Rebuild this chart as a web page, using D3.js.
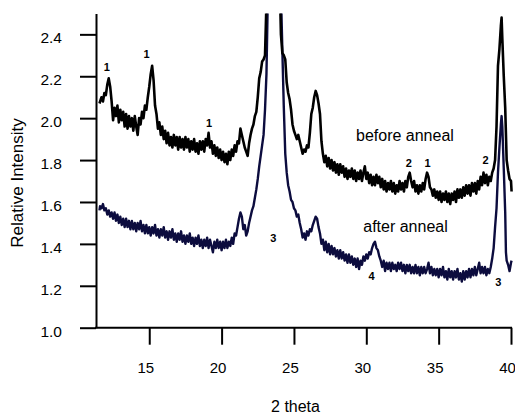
<!DOCTYPE html>
<html>
<head>
<meta charset="utf-8">
<script src="https://cdn.jsdelivr.net/npm/d3@7"></script>
<style>
  body { margin: 0; background: #fff; }
  text { font-family: "Liberation Sans", Arial, sans-serif; }
</style>
</head>
<body>
<div id="chart"></div>
<script>
//XRD scan before anneal: [2 theta, relative intensity]
const beforeAnneal = [
  [11.56, 2.07], [11.7, 2.10], [11.8, 2.08], [11.9, 2.12], [12.0, 2.11], [12.1, 2.16], [12.2, 2.19], [12.3, 2.15],
  [12.4, 2.08], [12.5, 1.99], [12.6, 2.05], [12.7, 2.01], [12.8, 2.06], [12.9, 1.98], [13.0, 2.04], [13.1, 1.99],
  [13.2, 2.03], [13.3, 1.96], [13.4, 2.02], [13.5, 1.95], [13.6, 2.01], [13.7, 1.96], [13.8, 2.00], [13.9, 1.94],
  [14.0, 2.01], [14.1, 1.96], [14.2, 1.92], [14.3, 2.00], [14.4, 1.97], [14.5, 2.03], [14.6, 2.00], [14.7, 2.06],
  [14.8, 2.04], [14.9, 2.10], [15.0, 2.15], [15.1, 2.21], [15.2, 2.25], [15.3, 2.18], [15.4, 2.06], [15.5, 2.02],
  [15.6, 1.95], [15.7, 1.98], [15.8, 1.92], [15.9, 1.96], [16.0, 1.90], [16.1, 1.94], [16.2, 1.88], [16.3, 1.93],
  [16.4, 1.87], [16.5, 1.91], [16.6, 1.86], [16.7, 1.92], [16.8, 1.87], [16.9, 1.91], [17.0, 1.85], [17.1, 1.91],
  [17.2, 1.86], [17.3, 1.90], [17.4, 1.85], [17.5, 1.91], [17.6, 1.86], [17.7, 1.90], [17.8, 1.84], [17.9, 1.89],
  [18.0, 1.85], [18.1, 1.90], [18.2, 1.84], [18.3, 1.88], [18.4, 1.83], [18.5, 1.89], [18.6, 1.85], [18.7, 1.89],
  [18.8, 1.84], [18.9, 1.90], [19.0, 1.87], [19.1, 1.93], [19.2, 1.86], [19.3, 1.89], [19.4, 1.83], [19.5, 1.87],
  [19.6, 1.82], [19.7, 1.86], [19.8, 1.81], [19.9, 1.85], [20.0, 1.80], [20.1, 1.84], [20.2, 1.79], [20.3, 1.83],
  [20.4, 1.78], [20.5, 1.84], [20.6, 1.80], [20.7, 1.85], [20.8, 1.82], [20.9, 1.87], [21.0, 1.84], [21.1, 1.89],
  [21.2, 1.88], [21.3, 1.95], [21.4, 1.92], [21.5, 1.89], [21.6, 1.86], [21.7, 1.84], [21.8, 1.82], [21.9, 1.88],
  [22.0, 1.92], [22.1, 1.95], [22.2, 1.97], [22.3, 2.01], [22.4, 2.03], [22.5, 2.10], [22.6, 2.19], [22.7, 2.22],
  [22.8, 2.27], [22.9, 2.28], [23.0, 2.30], [23.1, 2.55], [23.2, 2.90], [23.4, 3.30], [23.6, 3.40], [23.8, 3.20],
  [24.0, 2.70], [24.1, 2.40], [24.2, 2.31], [24.3, 2.30], [24.4, 2.28], [24.5, 2.17], [24.6, 2.12], [24.7, 2.09],
  [24.8, 2.04], [24.9, 1.97], [25.0, 1.94], [25.1, 1.92], [25.2, 1.90], [25.3, 1.92], [25.4, 1.89], [25.5, 1.86],
  [25.6, 1.83], [25.7, 1.85], [25.8, 1.84], [25.9, 1.87], [26.0, 1.86], [26.1, 1.93], [26.2, 2.02], [26.3, 2.05],
  [26.4, 2.10], [26.5, 2.13], [26.6, 2.11], [26.7, 2.07], [26.8, 2.02], [26.9, 1.89], [27.0, 1.83], [27.1, 1.79],
  [27.2, 1.82], [27.3, 1.77], [27.4, 1.81], [27.5, 1.76], [27.6, 1.80], [27.7, 1.75], [27.8, 1.79], [27.9, 1.74],
  [28.0, 1.78], [28.1, 1.73], [28.2, 1.78], [28.3, 1.74], [28.4, 1.77], [28.5, 1.72], [28.6, 1.76], [28.7, 1.71],
  [28.8, 1.75], [28.9, 1.72], [29.0, 1.76], [29.1, 1.71], [29.2, 1.75], [29.3, 1.70], [29.4, 1.74], [29.5, 1.71],
  [29.6, 1.75], [29.7, 1.70], [29.8, 1.74], [29.9, 1.77], [30.0, 1.71], [30.1, 1.74], [30.2, 1.69], [30.3, 1.73],
  [30.4, 1.68], [30.5, 1.72], [30.6, 1.68], [30.7, 1.73], [30.8, 1.69], [30.9, 1.72], [31.0, 1.67], [31.1, 1.71],
  [31.2, 1.66], [31.3, 1.70], [31.4, 1.65], [31.5, 1.69], [31.6, 1.66], [31.7, 1.70], [31.8, 1.65], [31.9, 1.69],
  [32.0, 1.64], [32.1, 1.68], [32.2, 1.65], [32.3, 1.70], [32.4, 1.66], [32.5, 1.69], [32.6, 1.65], [32.7, 1.70],
  [32.8, 1.67], [32.9, 1.72], [33.0, 1.74], [33.1, 1.70], [33.2, 1.67], [33.3, 1.70], [33.4, 1.65], [33.5, 1.68],
  [33.6, 1.64], [33.7, 1.68], [33.8, 1.65], [33.9, 1.69], [34.0, 1.66], [34.1, 1.71], [34.2, 1.74], [34.3, 1.72],
  [34.4, 1.67], [34.5, 1.66], [34.6, 1.63], [34.7, 1.66], [34.8, 1.62], [34.9, 1.65], [35.0, 1.61], [35.1, 1.65],
  [35.2, 1.60], [35.3, 1.64], [35.4, 1.61], [35.5, 1.65], [35.6, 1.60], [35.7, 1.64], [35.8, 1.59], [35.9, 1.64],
  [36.0, 1.61], [36.1, 1.65], [36.2, 1.60], [36.3, 1.66], [36.4, 1.62], [36.5, 1.66], [36.6, 1.62], [36.7, 1.67],
  [36.8, 1.63], [36.9, 1.68], [37.0, 1.64], [37.1, 1.68], [37.2, 1.63], [37.3, 1.69], [37.4, 1.65], [37.5, 1.69],
  [37.6, 1.64], [37.7, 1.70], [37.8, 1.66], [37.9, 1.72], [38.0, 1.68], [38.1, 1.74], [38.2, 1.69], [38.3, 1.73],
  [38.4, 1.68], [38.5, 1.72], [38.6, 1.70], [38.7, 1.74], [38.8, 1.76], [38.9, 1.80], [39.0, 1.96], [39.1, 2.25],
  [39.2, 2.33], [39.3, 2.44], [39.35, 2.48], [39.4, 2.38], [39.5, 2.20], [39.6, 2.05], [39.7, 1.80], [39.8, 1.75],
  [39.9, 1.71], [40.0, 1.70], [40.04, 1.65]
];

//XRD scan after anneal
const afterAnneal = [
  [11.56, 1.56], [11.6, 1.58], [11.7, 1.57], [11.8, 1.59], [11.9, 1.56], [12.0, 1.57], [12.1, 1.54], [12.2, 1.56],
  [12.3, 1.53], [12.4, 1.55], [12.5, 1.52], [12.6, 1.55], [12.7, 1.51], [12.8, 1.54], [12.9, 1.50], [13.0, 1.53],
  [13.1, 1.49], [13.2, 1.52], [13.3, 1.48], [13.4, 1.52], [13.5, 1.48], [13.6, 1.51], [13.7, 1.47], [13.8, 1.51],
  [13.9, 1.47], [14.0, 1.50], [14.1, 1.46], [14.2, 1.50], [14.3, 1.47], [14.4, 1.51], [14.5, 1.46], [14.6, 1.49],
  [14.7, 1.45], [14.8, 1.49], [14.9, 1.45], [15.0, 1.48], [15.1, 1.44], [15.2, 1.48], [15.3, 1.45], [15.4, 1.49],
  [15.5, 1.44], [15.6, 1.47], [15.7, 1.43], [15.8, 1.47], [15.9, 1.44], [16.0, 1.48], [16.1, 1.43], [16.2, 1.46],
  [16.3, 1.42], [16.4, 1.46], [16.5, 1.43], [16.6, 1.47], [16.7, 1.42], [16.8, 1.45], [16.9, 1.41], [17.0, 1.45],
  [17.1, 1.42], [17.2, 1.46], [17.3, 1.41], [17.4, 1.44], [17.5, 1.40], [17.6, 1.44], [17.7, 1.41], [17.8, 1.45],
  [17.9, 1.40], [18.0, 1.43], [18.1, 1.39], [18.2, 1.43], [18.3, 1.40], [18.4, 1.44], [18.5, 1.39], [18.6, 1.42],
  [18.7, 1.38], [18.8, 1.42], [18.9, 1.39], [19.0, 1.43], [19.1, 1.38], [19.2, 1.42], [19.3, 1.39], [19.4, 1.36],
  [19.5, 1.41], [19.6, 1.38], [19.7, 1.42], [19.8, 1.38], [19.9, 1.41], [20.0, 1.37], [20.1, 1.41], [20.2, 1.38],
  [20.3, 1.42], [20.4, 1.38], [20.5, 1.41], [20.6, 1.39], [20.7, 1.43], [20.8, 1.40], [20.9, 1.45], [21.0, 1.44],
  [21.1, 1.48], [21.2, 1.52], [21.3, 1.55], [21.4, 1.53], [21.5, 1.47], [21.6, 1.49], [21.7, 1.44], [21.8, 1.46],
  [21.9, 1.50], [22.0, 1.53], [22.1, 1.56], [22.2, 1.58], [22.3, 1.62], [22.4, 1.66], [22.5, 1.71], [22.6, 1.77],
  [22.7, 1.82], [22.8, 1.87], [22.9, 1.92], [23.0, 2.04], [23.1, 2.21], [23.2, 2.60], [23.4, 3.20], [23.7, 3.50],
  [23.9, 3.00], [24.1, 2.60], [24.2, 2.32], [24.3, 2.05], [24.4, 1.83], [24.5, 1.74], [24.6, 1.68], [24.7, 1.65],
  [24.8, 1.61], [24.9, 1.60], [25.0, 1.57], [25.1, 1.56], [25.2, 1.53], [25.3, 1.54], [25.4, 1.50], [25.5, 1.47],
  [25.6, 1.43], [25.7, 1.45], [25.8, 1.42], [25.9, 1.46], [26.0, 1.44], [26.1, 1.47], [26.2, 1.46], [26.3, 1.49],
  [26.4, 1.51], [26.5, 1.53], [26.6, 1.52], [26.7, 1.48], [26.8, 1.45], [26.9, 1.40], [27.0, 1.42], [27.1, 1.37],
  [27.2, 1.41], [27.3, 1.36], [27.4, 1.40], [27.5, 1.35], [27.6, 1.39], [27.7, 1.35], [27.8, 1.38], [27.9, 1.34],
  [28.0, 1.37], [28.1, 1.33], [28.2, 1.37], [28.3, 1.33], [28.4, 1.36], [28.5, 1.32], [28.6, 1.35], [28.7, 1.31],
  [28.8, 1.35], [28.9, 1.31], [29.0, 1.34], [29.1, 1.30], [29.2, 1.33], [29.3, 1.29], [29.4, 1.33], [29.5, 1.28],
  [29.6, 1.32], [29.7, 1.30], [29.8, 1.34], [29.9, 1.32], [30.0, 1.35], [30.1, 1.33], [30.2, 1.36], [30.3, 1.35],
  [30.4, 1.38], [30.5, 1.40], [30.6, 1.41], [30.7, 1.38], [30.8, 1.37], [30.9, 1.34], [31.0, 1.32], [31.1, 1.29],
  [31.2, 1.32], [31.3, 1.27], [31.4, 1.31], [31.5, 1.28], [31.6, 1.31], [31.7, 1.27], [31.8, 1.31], [31.9, 1.28],
  [32.0, 1.30], [32.1, 1.27], [32.2, 1.31], [32.3, 1.28], [32.4, 1.31], [32.5, 1.27], [32.6, 1.30], [32.7, 1.26],
  [32.8, 1.30], [32.9, 1.27], [33.0, 1.30], [33.1, 1.26], [33.2, 1.29], [33.3, 1.26], [33.4, 1.30], [33.5, 1.26],
  [33.6, 1.29], [33.7, 1.25], [33.8, 1.29], [33.9, 1.26], [34.0, 1.29], [34.1, 1.26], [34.2, 1.28], [34.3, 1.31],
  [34.4, 1.26], [34.5, 1.29], [34.6, 1.25], [34.7, 1.28], [34.8, 1.25], [34.9, 1.28], [35.0, 1.24], [35.1, 1.28],
  [35.2, 1.25], [35.3, 1.29], [35.4, 1.24], [35.5, 1.27], [35.6, 1.23], [35.7, 1.28], [35.8, 1.24], [35.9, 1.27],
  [36.0, 1.23], [36.1, 1.27], [36.2, 1.24], [36.3, 1.28], [36.4, 1.23], [36.5, 1.26], [36.6, 1.22], [36.7, 1.27],
  [36.8, 1.23], [36.9, 1.27], [37.0, 1.24], [37.1, 1.28], [37.2, 1.24], [37.3, 1.28], [37.4, 1.25], [37.5, 1.29],
  [37.6, 1.25], [37.7, 1.28], [37.8, 1.31], [37.9, 1.26], [38.0, 1.29], [38.1, 1.26], [38.2, 1.29], [38.3, 1.25],
  [38.4, 1.28], [38.5, 1.26], [38.6, 1.29], [38.7, 1.33], [38.8, 1.38], [38.9, 1.48], [39.0, 1.57], [39.1, 1.74],
  [39.2, 1.86], [39.3, 1.97], [39.35, 2.01], [39.4, 1.96], [39.5, 1.76], [39.6, 1.55], [39.65, 1.36], [39.7, 1.32],
  [39.8, 1.30], [39.9, 1.27], [40.0, 1.31], [40.04, 1.32]
];

//axis ticks
const xTicks = [15, 20, 25, 30, 35, 40];
const yTicks = [1.0, 1.2, 1.4, 1.6, 1.8, 2.0, 2.2, 2.4];

//peak markers: [2 theta, intensity, label]
const peakLabels = [
  [12.06, 2.246, "1"], [14.82, 2.306, "1"], [19.13, 1.976, "1"],
  [32.93, 1.785, "2"], [34.24, 1.785, "1"], [38.25, 1.80, "2"],
  [23.57, 1.427, "3"], [30.37, 1.247, "4"], [39.12, 1.22, "3"]
];

//curve names
const curveLabels = [
  [32.67, 1.916, "before anneal"],
  [32.71, 1.482, "after anneal"]
];

//size
const width = 515;
const height = 418;
const plot = { left: 96, right: 511, top: 13.4, bottom: 327.7 };

const x = d3.scaleLinear().domain([11.32, 40]).range([plot.left, plot.right]);
const y = d3.scaleLinear().domain([1.0, 2.5]).range([plot.bottom, plot.top]);

const svg = d3
  .select("#chart")
  .append("svg")
  .attr("width", width)
  .attr("height", height);

svg
  .append("clipPath")
  .attr("id", "clip")
  .append("rect")
  .attr("x", plot.left)
  .attr("y", plot.top)
  .attr("width", plot.right - plot.left + 4)
  .attr("height", plot.bottom - plot.top);

const line = d3
  .line()
  .x((d) => x(d[0]))
  .y((d) => y(d[1]));

//curves
const curves = svg.append("g").attr("clip-path", "url(#clip)");

curves
  .append("path")
  .datum(afterAnneal)
  .attr("fill", "none")
  .attr("stroke", "#0c0c3e")
  .attr("stroke-width", 2.4)
  .attr("stroke-linejoin", "round")
  .attr("d", line);

curves
  .append("path")
  .datum(beforeAnneal)
  .attr("fill", "none")
  .attr("stroke", "#000")
  .attr("stroke-width", 2.6)
  .attr("stroke-linejoin", "round")
  .attr("d", line);

//x axis
svg
  .append("g")
  .attr("transform", `translate(0,${plot.bottom})`)
  .call(d3.axisBottom(x).tickValues(xTicks).tickSize(17).tickSizeOuter(0).tickPadding(18))
  .call((g) => {
    g.select(".domain").attr("stroke-width", 2).attr("d", `M${plot.left - 1},0H${plot.right + 1}`);
    g.selectAll(".tick line").attr("stroke-width", 2);
    g.selectAll(".tick text")
      .attr("font-size", 15)
      .attr("fill", "#000")
      .attr("dx", -4)
      .style("font-family", '"Liberation Sans", Arial, sans-serif');
  });

//y axis
svg
  .append("g")
  .attr("transform", `translate(${plot.left},0)`)
  .call(d3.axisLeft(y).tickValues(yTicks).tickFormat(d3.format(".1f")).tickSize(16).tickSizeOuter(0).tickPadding(18))
  .call((g) => {
    g.select(".domain").attr("stroke-width", 2);
    g.selectAll(".tick line").attr("stroke-width", 2);
    g.selectAll(".tick text")
      .attr("font-size", 15.5)
      .attr("fill", "#000")
      .attr("y", 3.5)
      .style("font-family", '"Liberation Sans", Arial, sans-serif');
  });

//peak numbers
svg
  .append("g")
  .selectAll("text")
  .data(peakLabels)
  .join("text")
  .attr("x", (d) => x(d[0]))
  .attr("y", (d) => y(d[1]))
  .attr("text-anchor", "middle")
  .attr("dominant-baseline", "central")
  .attr("font-size", 11)
  .attr("font-weight", "bold")
  .attr("fill", "#000")
  .text((d) => d[2]);

//curve labels
svg
  .append("g")
  .selectAll("text")
  .data(curveLabels)
  .join("text")
  .attr("x", (d) => x(d[0]))
  .attr("y", (d) => y(d[1]))
  .attr("text-anchor", "middle")
  .attr("dominant-baseline", "central")
  .attr("font-size", 16)
  .text((d) => d[2]);

//axis titles
svg
  .append("text")
  .attr("x", 295.5)
  .attr("y", 406)
  .attr("text-anchor", "middle")
  .attr("dominant-baseline", "central")
  .attr("font-size", 16)
  .text("2 theta");

svg
  .append("text")
  .attr("transform", "translate(17,183) rotate(-90)")
  .attr("text-anchor", "middle")
  .attr("dominant-baseline", "central")
  .attr("font-size", 17)
  .text("Relative Intensity");
</script>
</body>
</html>
